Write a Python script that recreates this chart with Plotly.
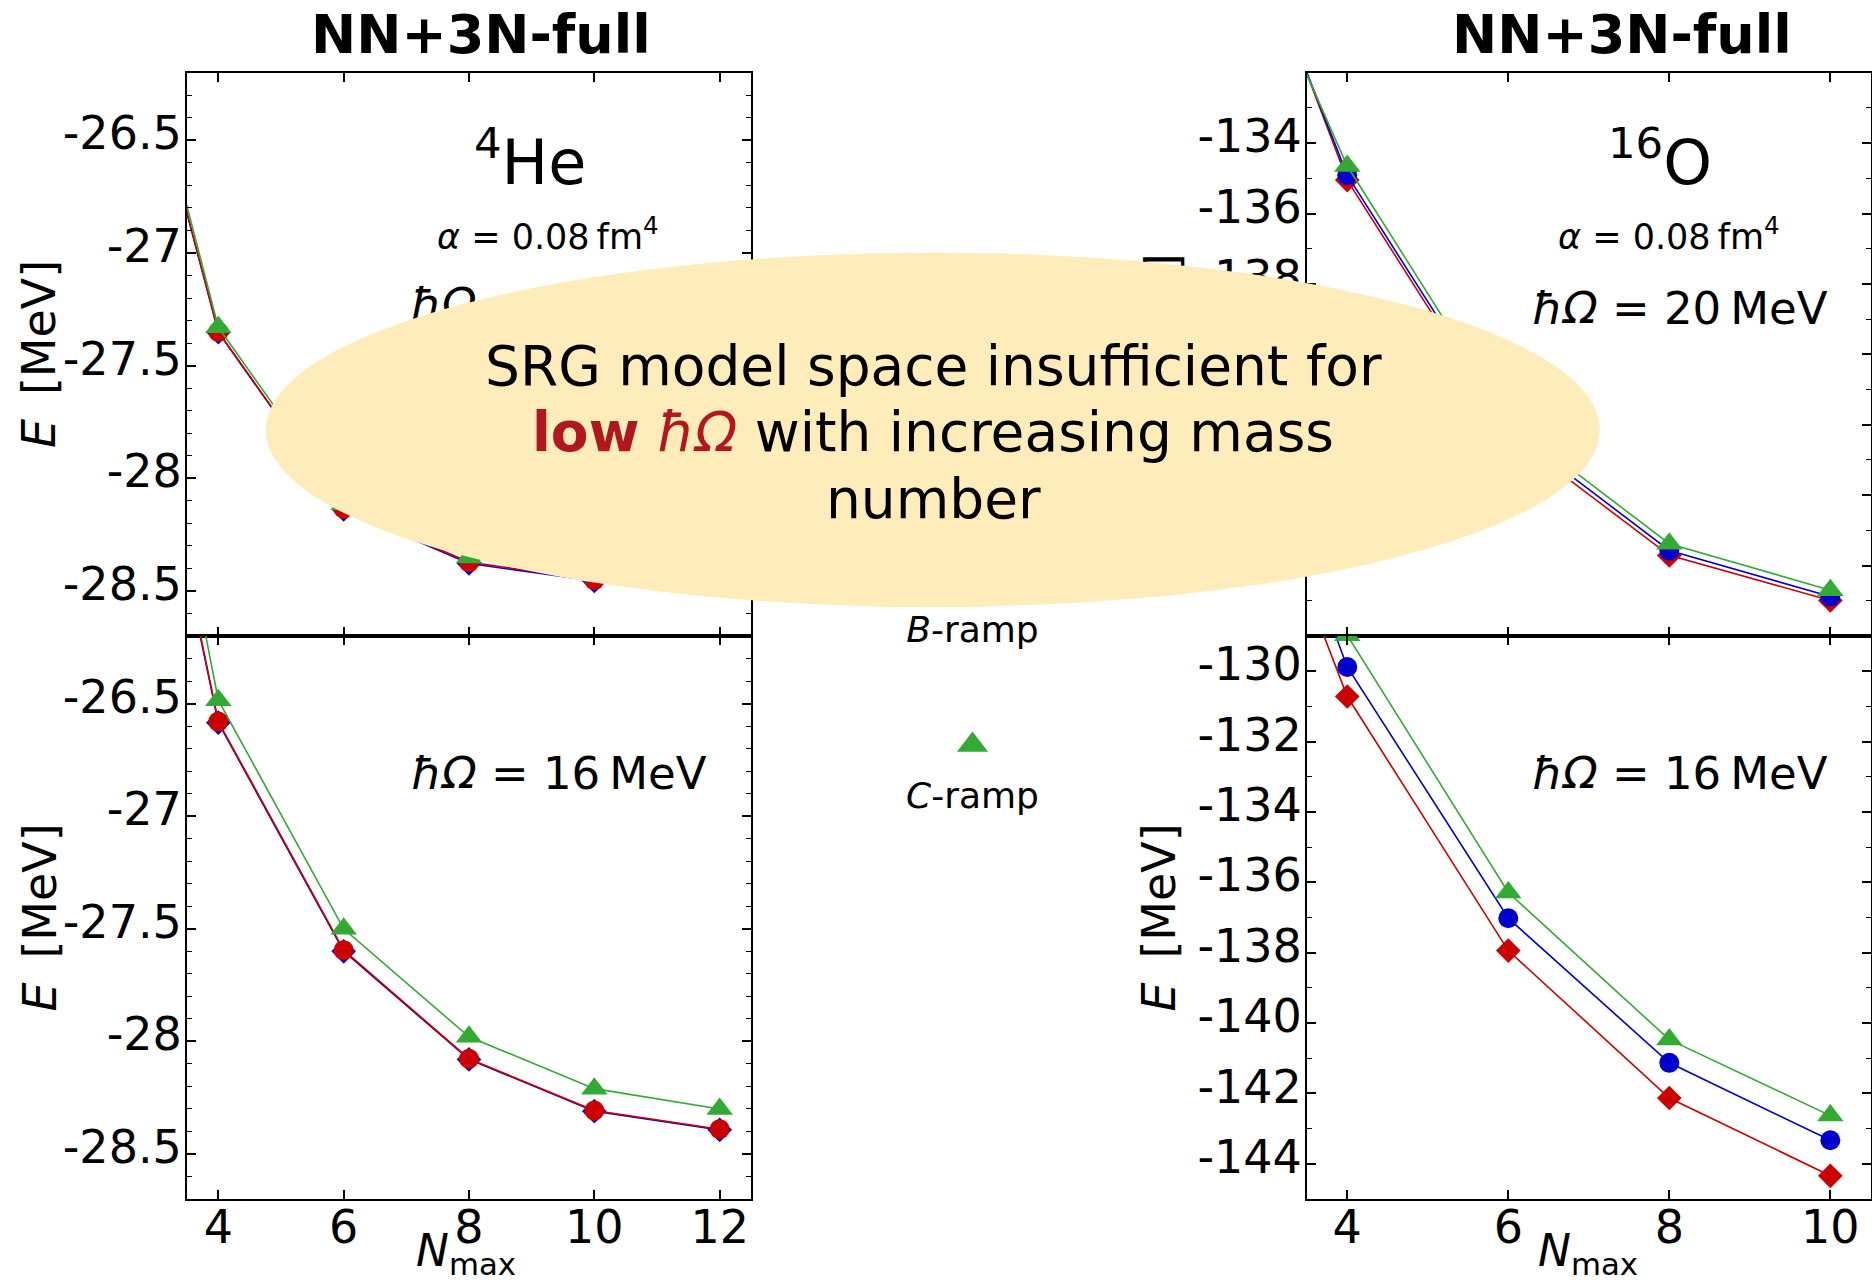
import plotly.graph_objects as go

W, H = 1872, 1282
FONT = "DejaVu Sans"

# ---------------- data ----------------
nmax_he = [2, 4, 6, 8, 10, 12]
nmax_o = [2, 4, 6, 8, 10]

# 4He, hbar*Omega = 20 MeV
he20_A = [-25.24, -27.350, -28.135, -28.372, -28.452, -28.470]
he20_B = [-25.24, -27.352, -28.138, -28.378, -28.456, -28.472]
he20_C = [-25.18, -27.330, -28.115, -28.352, -28.432, -28.455]
# 4He, hbar*Omega = 16 MeV
he16_A = [-23.90, -26.580, -27.595, -28.077, -28.307, -28.390]
he16_B = [-23.92, -26.585, -27.600, -28.080, -28.310, -28.393]
he16_C = [-23.63, -26.485, -27.500, -27.980, -28.210, -28.300]
# 16O, hbar*Omega = 20 MeV
o20_A = [-123.0, -135.05, -142.25, -145.71, -146.99]
o20_B = [-123.3, -134.91, -142.10, -145.57, -146.88]
o20_C = [-124.3, -134.65, -141.90, -145.38, -146.70]
# 16O, hbar*Omega = 16 MeV
o16_A = [-118.8, -130.72, -137.94, -142.13, -144.34]
o16_B = [-117.6, -129.88, -137.02, -141.13, -143.33]
o16_C = [-117.0, -128.98, -136.29, -140.47, -142.63]

series_names = ["<i>A</i>-ramp", "<i>B</i>-ramp", "<i>C</i>-ramp"]

he_xticks = [4, 6, 8, 10, 12]
o_xticks = [4, 6, 8, 10]
he_yticks = [-28.5, -28.0, -27.5, -27.0, -26.5]
o20_yticks = [-148, -146, -144, -142, -140, -138, -136, -134]
o20_ylabels = ["", "-146", "-144", "-142", "-140", "-138", "-136", "-134"]
o16_yticks = [-144, -142, -140, -138, -136, -134, -132, -130]

# ---------------- styles ----------------
RED, BLUE, GREEN = "#CC0000", "#0000CC", "#33AA33"
ELLIPSE = "#FFECBB"
DARKRED = "#B0171F"


def fmt(v):
    return "%g" % v


def px(x, y):
    return x / W, 1 - y / H


fig = go.Figure()

panels = {
    # name: (xaxis id, yaxis id, x domain px, y domain px, xrange, yrange)
    1: ("x", "y", (187, 751), (72.7, 636), (3.5, 12.5), (-28.7, -26.2)),
    2: ("x2", "y2", (1307, 1870.6), (72.7, 636), (3.5, 10.5), (-148, -132)),
    3: ("x3", "y3", (187, 751), (636, 1199), (3.5, 12.5), (-28.7, -26.2)),
    4: ("x4", "y4", (1307, 1870.6), (636, 1199), (3.5, 10.5), (-145, -129)),
}


def add_series(p, xs, ys, color, symbol, size):
    xa, ya = panels[p][0], panels[p][1]
    fig.add_trace(go.Scatter(
        x=xs, y=ys, xaxis=xa, yaxis=ya, mode="lines+markers",
        line=dict(color=color, width=1.6),
        marker=dict(color=color, symbol=symbol, size=size, line=dict(width=0)),
        showlegend=False, hoverinfo="skip"))


# 4He panels: blue diamonds under red circles, green triangles on top
for p, (a, b, c) in {1: (he20_A, he20_B, he20_C), 3: (he16_A, he16_B, he16_C)}.items():
    add_series(p, nmax_he, b, BLUE, "diamond", 19)
    add_series(p, nmax_he, a, RED, "circle", 20)
    add_series(p, nmax_he, c, GREEN, "triangle-up", 23)
# 16O panels: red diamonds, blue circles, green triangles
for p, (a, b, c) in {2: (o20_A, o20_B, o20_C), 4: (o16_A, o16_B, o16_C)}.items():
    add_series(p, nmax_o, a, RED, "diamond", 19)
    add_series(p, nmax_o, b, BLUE, "circle", 20)
    add_series(p, nmax_o, c, GREEN, "triangle-up", 23)

axis_common = dict(
    showline=True, linewidth=2, linecolor="black", mirror="allticks",
    ticks="inside", ticklen=9, tickwidth=1.6, tickcolor="black",
    showgrid=False, zeroline=False,
)

layout_axes = {}
for p, (xa, ya, xd, yd, xr, yr) in panels.items():
    xname = "xaxis" if xa == "x" else "xaxis" + xa[1:]
    yname = "yaxis" if ya == "y" else "yaxis" + ya[1:]
    xt = he_xticks if p in (1, 3) else o_xticks
    if p in (1, 3):
        yt, ylab, mdt = he_yticks, [fmt(v) for v in he_yticks], 0.1
    elif p == 2:
        yt, ylab, mdt = o20_yticks, o20_ylabels, 1
    else:
        yt, ylab, mdt = o16_yticks, [fmt(v) for v in o16_yticks], 1
    layout_axes[xname] = dict(
        axis_common, domain=[xd[0] / W, xd[1] / W], range=list(xr),
        anchor=ya, tickmode="array", tickvals=xt, ticktext=[fmt(v) for v in xt],
        showticklabels=p in (3, 4), ticklabelstandoff=-13,
        tickfont=dict(family=FONT, size=46, color="black"))
    layout_axes[yname] = dict(
        axis_common, domain=[1 - yd[1] / H, 1 - yd[0] / H], range=list(yr),
        anchor=xa, tickmode="array", tickvals=yt, ticktext=ylab,
        ticklabelstandoff=-6, ticklabelshift=-7,
        tickfont=dict(family=FONT, size=46, color="black"),
        minor=dict(ticks="inside", ticklen=5, tickwidth=1.3, tickcolor="black",
                   tick0=0, dtick=mdt, showgrid=False))

# hidden y-title of the top-right panel: drawn as the tick label of an
# invisible helper axis so that the ellipse can cover it
layout_axes["xaxis6"] = dict(domain=[1188 / W, 1300 / W], range=[0, 1], anchor="y6",
                             showline=False, showgrid=False, zeroline=False,
                             showticklabels=False, ticks="")
layout_axes["yaxis6"] = dict(
    domain=[1 - 636 / H, 1 - 72.7 / H], anchor="x6", side="left",
    range=[0, 1], tickmode="array", tickvals=[0.5],
    ticktext=["<i>E</i>\u00a0\u2009[MeV]"], tickangle=-90, ticks="",
    showline=False, showgrid=False, zeroline=False,
    tickfont=dict(family=FONT, size=46, color="black"))
fig.add_trace(go.Scatter(x=[None], y=[None], xaxis="x6", yaxis="y6", mode="markers",
                         showlegend=False, hoverinfo="skip"))

# legend axis (between the panels)
layout_axes["xaxis5"] = dict(domain=[751 / W, 1307 / W], range=[0, 1], visible=False, anchor="y5")
layout_axes["yaxis5"] = dict(domain=[1 - 1199 / H, 1 - 72.7 / H], range=[0, 1], visible=False, anchor="x5")

leg_x = (972.5 - 751) / 556
leg_marker_y = [(1199 - y) / 1126.3 for y in (411, 578, 745)]
leg_label_y = [(1199 - y) / 1126.3 for y in (466, 633, 799)]
for (sym, col, sz), yy in zip([("diamond", RED, 22), ("circle", BLUE, 23), ("triangle-up", GREEN, 27)], leg_marker_y):
    fig.add_trace(go.Scatter(x=[leg_x], y=[yy], xaxis="x5", yaxis="y5", mode="markers",
                             marker=dict(symbol=sym, color=col, size=sz, line=dict(width=0)),
                             showlegend=False, hoverinfo="skip"))
fig.add_trace(go.Scatter(x=[leg_x] * 3, y=leg_label_y, xaxis="x5", yaxis="y5", mode="text",
                         text=series_names, textposition="middle center",
                         textfont=dict(family=FONT, size=36, color="black"),
                         showlegend=False, hoverinfo="skip"))

# partially hidden hbar*Omega label in the top-left panel (under the ellipse)
xd, yd, xr, yr = panels[1][2], panels[1][3], panels[1][4], panels[1][5]
lx = xr[0] + (558.5 - xd[0]) / (xd[1] - xd[0]) * (xr[1] - xr[0])
ly = yr[1] - (309 - yd[0]) / (yd[1] - yd[0]) * (yr[1] - yr[0])
fig.add_trace(go.Scatter(x=[lx], y=[ly], xaxis="x", yaxis="y", mode="text",
                         text=["<i>ħΩ</i> = 20\u2009MeV"], textposition="middle center",
                         textfont=dict(family=FONT, size=45, color="black"),
                         showlegend=False, hoverinfo="skip"))

annotations = []


def ann(text, x, y, size, angle=0, color="black"):
    ax_, ay_ = px(x, y)
    annotations.append(dict(text=text, x=ax_, y=ay_, xref="paper", yref="paper",
                            xanchor="center", yanchor="middle", showarrow=False,
                            textangle=angle,
                            font=dict(family=FONT, size=size, color=color)))


ann("<b>NN+3N-full</b>", 481, 34.6, 54)
ann("<b>NN+3N-full</b>", 1622, 34.6, 54)
ann("<i>N</i><sub>max</sub>", 466, 1253, 44)
ann("<i>N</i><sub>max</sub>", 1588, 1253, 44)
ann("<i>E</i>\u00a0\u2009[MeV]", 39, 354, 46, angle=-90)
ann("<i>E</i>\u00a0\u2009[MeV]", 39, 917.5, 46, angle=-90)
ann("<i>E</i>\u00a0\u2009[MeV]", 1158, 917.5, 46, angle=-90)
ann("<sup>4</sup>He", 529.5, 158, 62)
ann("<sup>16</sup>O", 1660, 158, 62)
ann("<i>α</i> = 0.08\u2009fm<sup>4</sup>", 547.5, 234, 35)
ann("<i>α</i> = 0.08\u2009fm<sup>4</sup>", 1669, 234, 35)
ann("<i>ħΩ</i> = 20\u2009MeV", 1680, 309, 45)
ann("<i>ħΩ</i> = 16\u2009MeV", 558.5, 773, 45)
ann("<i>ħΩ</i> = 16\u2009MeV", 1680, 773, 45)

# ellipse message
ann("SRG model space insufficient for", 933, 366, 55)
ann("<span style='color:%s'><b>low</b> <i>ħΩ</i></span> with increasing mass" % DARKRED, 933, 432, 55)
ann("number", 933, 499, 55)

ex0, ey0 = px(265.7, 607)
ex1, ey1 = px(1600, 252.7)
fig.update_layout(
    width=W, height=H, margin=dict(l=0, r=0, t=0, b=0),
    paper_bgcolor="white", plot_bgcolor="rgba(0,0,0,0)", showlegend=False,
    font=dict(family=FONT, color="black"),
    annotations=annotations,
    shapes=[dict(type="circle", xref="paper", yref="paper", x0=ex0, x1=ex1, y0=ey0, y1=ey1,
                 fillcolor=ELLIPSE, line=dict(width=0), layer="above")],
    **layout_axes,
)

fig.write_html("out.html")
